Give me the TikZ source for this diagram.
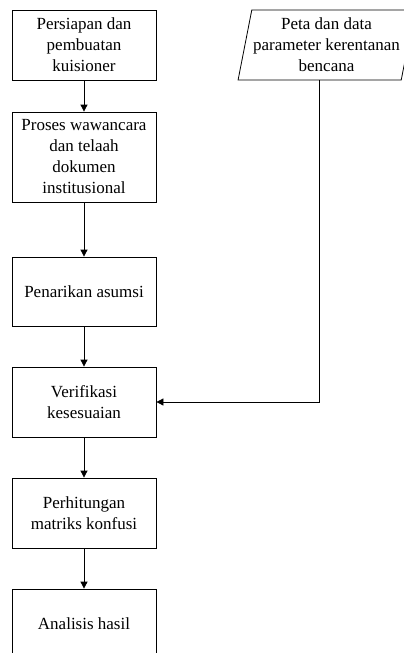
\documentclass[tikz,border=0pt]{standalone}
\usepackage{fontspec}
\setmainfont{Liberation Serif}
\usepackage{tikz}
\usetikzlibrary{shapes.geometric, arrows.meta, calc}

\begin{document}
\begin{tikzpicture}[x=1pt, y=-1pt,
		proc/.style={draw, line width=0.8pt, minimum width=144pt, minimum height=#1, align=center, inner sep=2pt, font=\fontsize{17}{21}\selectfont},
		proc/.default=70pt,
		dataio/.style={draw, line width=0.8pt, trapezium, trapezium left angle=76, trapezium right angle=104, trapezium stretches=true, minimum width=177pt, minimum height=70pt, align=center, inner sep=0pt, font=\fontsize{17}{21}\selectfont},
		flow/.style={line width=0.8pt, -{Triangle[width=7pt, length=7pt]}}
		]
		\useasboundingbox (0,0) rectangle (404,653);
		
		% Left column: process steps
		\node[proc] (siap) at (84,45) {Persiapan dan\\pembuatan\\kuisioner};
		\node[proc=90pt] (wawancara) at (84,157) {Proses wawancara\\dan telaah\\dokumen\\institusional};
		\node[proc=69pt] (asumsi) at (84,291.5) {Penarikan asumsi};
		\node[proc] (verif) at (84,402) {Verifikasi\\kesesuaian};
		\node[proc] (matriks) at (84,513) {Perhitungan\\matriks konfusi};
		\node[proc] (analisis) at (84,624) {Analisis hasil};
		
		% Input data
		\node[dataio] (peta) at (326.5,45) {Peta dan data\\parameter kerentanan\\bencana};
		\coordinate (petaout) at ($(peta.bottom left corner)!0.5!(peta.bottom right corner)$);
		
		\draw[flow] (siap) -- (wawancara);
		\draw[flow] (wawancara) -- (asumsi);
		\draw[flow] (asumsi) -- (verif);
		\draw[flow] (verif) -- (matriks);
		\draw[flow] (matriks) -- (analisis);
		\draw[flow] (petaout) |- (verif.east);
		
	\end{tikzpicture}
\end{document}
